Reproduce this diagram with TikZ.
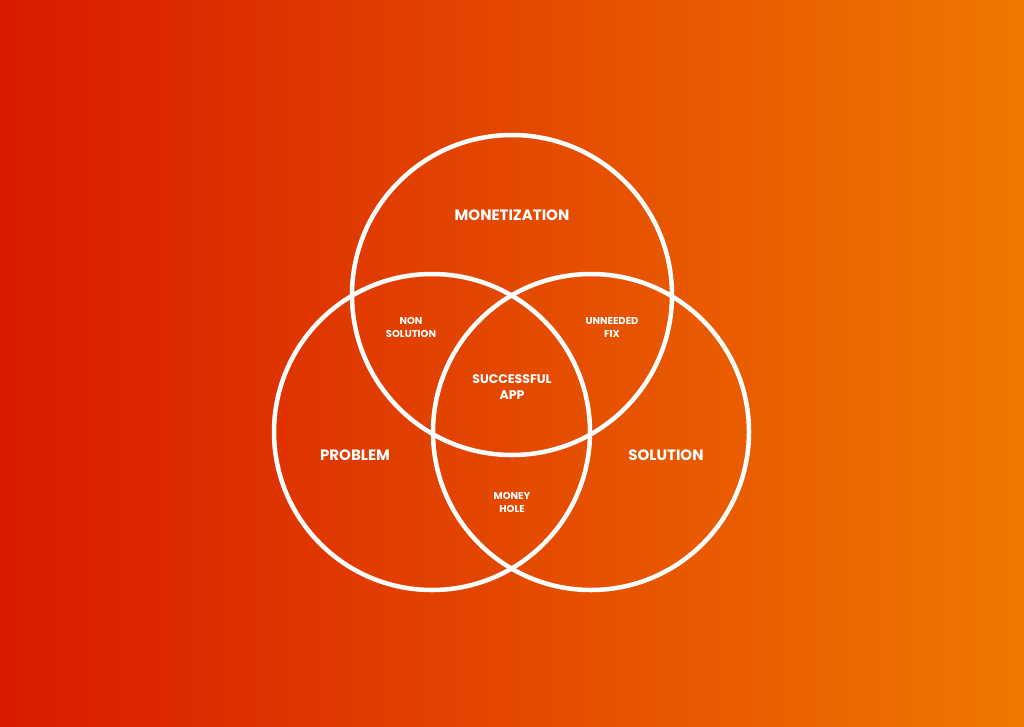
\documentclass[tikz,border=0pt]{standalone}
\usepackage{fontspec}
\setmainfont{Poppins}
\definecolor{cl}{HTML}{D81A00}
\definecolor{cr}{HTML}{F07700}
\begin{document}
\begin{tikzpicture}[x=1pt,y=-1pt,
  ring/.style={draw=white,line width=4.5pt},
  big/.style={text=white,font=\bfseries\fontsize{15}{17}\selectfont,align=center},
  small/.style={text=white,font=\bfseries\fontsize{10}{13}\selectfont,align=center},
  mid/.style={text=white,font=\bfseries\fontsize{12.5}{16}\selectfont,align=center}]
\shade[left color=cl,right color=cr] (0,0) rectangle (1024,726);
\useasboundingbox (0,0) rectangle (1024,726);
\node[ring,circle,minimum size=320pt,inner sep=0pt] (top) at (512,295) {};
\node[ring,circle,minimum size=316pt,inner sep=0pt] (left) at (432,432) {};
\node[ring,circle,minimum size=316pt,inner sep=0pt] (right) at (591,432) {};
\node[big] (m) at (512,215) {MONETIZATION};
\node[big] (p) at (355,455) {PROBLEM};
\node[big] (s) at (666,455) {SOLUTION};
\node[small] (ns) at (411,327) {NON\\SOLUTION};
\node[small] (uf) at (612,327) {UNNEEDED\\FIX};
\node[mid] (sa) at (512,387) {SUCCESSFUL\\APP};
\node[small] (mh) at (512,502) {MONEY\\HOLE};
\end{tikzpicture}
\end{document}
